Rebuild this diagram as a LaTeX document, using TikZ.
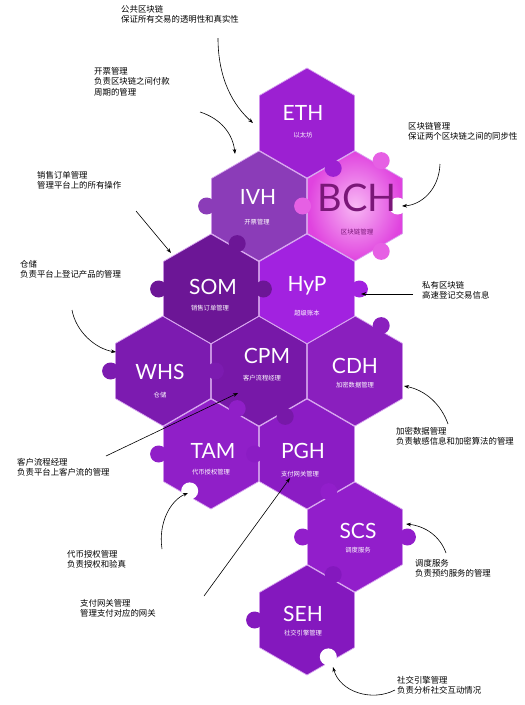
\documentclass[tikz,border=0pt]{standalone}
\usepackage{fontspec}
\setmainfont{Noto Sans CJK SC}
\newfontfamily\labfont{Lato}
\usetikzlibrary{arrows.meta}
\definecolor{cETH}{HTML}{9C20D2}
\definecolor{cIVH}{HTML}{8B3CB8}
\definecolor{cBCHin}{HTML}{F8B8F4}
\definecolor{cBCH}{HTML}{E043DF}
\definecolor{cBCHtab}{HTML}{E660E4}
\definecolor{cBCHtxt}{HTML}{7A1778}
\definecolor{cSOM}{HTML}{6C1696}
\definecolor{cHyP}{HTML}{A222E0}
\definecolor{cWHS}{HTML}{7C1BB0}
\definecolor{cCPM}{HTML}{7718A8}
\definecolor{cCDH}{HTML}{8A1FBE}
\definecolor{cTAM}{HTML}{901FC8}
\definecolor{cPGH}{HTML}{8B1CC4}
\definecolor{cSCS}{HTML}{921ECB}
\definecolor{cSEH}{HTML}{8418BE}
\definecolor{seamc}{HTML}{D8A6F0}
\newcommand\hexshape[2]{(#1,#2) ++(0,-55) -- ++(47.63,27.5) -- ++(0,55) -- ++(-47.63,27.5) -- ++(-47.63,-27.5) -- ++(0,-55) -- cycle}
\newcommand\hexfill[3]{\fill[#3] \hexshape{#1}{#2};}
\newcommand\hexseam[2]{\draw[seam] \hexshape{#1}{#2};}
\newcommand\ptab[4]{\fill[#4] (#1,#2) ++(#3:52.4) circle[radius=8.5];}
\newcommand\pnotch[3]{\fill[white] (#1,#2) ++(#3:42.6) circle[radius=8.5];}
\begin{document}
\begin{tikzpicture}[x=1pt,y=-1pt,
  seam/.style={draw=seamc,line width=0.7pt},
  note/.style={align=left,anchor=north west,inner sep=0pt,font=\fontsize{8.4}{10.5}\selectfont},
  big/.style={text=white,inner sep=0pt,font=\labfont\fontsize{21}{21}\selectfont},
  sub/.style={text=white,inner sep=0pt,font=\fontsize{6.3}{7}\selectfont},
  arr/.style={-{Stealth[length=5pt,width=3.6pt]},line width=0.6pt}]
\useasboundingbox (0,0) rectangle (525,705);
% pieces
\hexfill{307}{123}{cETH}
\hexfill{259}{206}{cIVH}
\shade[inner color=cBCHin,outer color=cBCH] \hexshape{355}{206};
\hexfill{211}{289}{cSOM}
\hexfill{307}{289}{cHyP}
\hexfill{163}{371}{cWHS}
\hexfill{259}{371}{cCPM}
\hexfill{355}{371}{cCDH}
\hexfill{211}{454}{cTAM}
\hexfill{307}{454}{cPGH}
\hexfill{355}{537}{cSCS}
\hexfill{307}{620}{cSEH}
% seams
\hexseam{307}{123}\hexseam{259}{206}\hexseam{355}{206}\hexseam{211}{289}
\hexseam{307}{289}\hexseam{163}{371}\hexseam{259}{371}\hexseam{355}{371}
\hexseam{211}{454}\hexseam{307}{454}\hexseam{355}{537}\hexseam{307}{620}
% tabs and notches
\ptab{307}{123}{60}{cETH}
\ptab{259}{206}{180}{cIVH}
\ptab{355}{206}{180}{cBCHtab}
\ptab{355}{206}{300}{cBCHtab}
\ptab{355}{206}{60}{cBCHtab}
\pnotch{355}{206}{0}
\ptab{211}{289}{300}{cSOM}
\ptab{211}{289}{0}{cSOM}
\ptab{211}{289}{180}{cSOM}
\ptab{307}{289}{0}{cHyP}
\ptab{163}{371}{180}{cWHS}
\ptab{163}{371}{0}{cWHS}
\ptab{259}{371}{60}{cCPM}
\ptab{355}{371}{300}{cCDH}
\ptab{211}{454}{180}{cTAM}
\ptab{211}{454}{300}{cTAM}
\pnotch{211}{454}{120}
\ptab{307}{454}{180}{cPGH}
\ptab{355}{537}{240}{cSCS}
\ptab{355}{537}{0}{cSCS}
\ptab{355}{537}{180}{cSCS}
\ptab{307}{620}{180}{cSEH}
\ptab{307}{620}{300}{cSEH}
\pnotch{307}{620}{60}
% labels
\node[big] (eth) at (303,113) {ETH};
\node[sub] (eths) at (303,135) {以太坊};
\node[big] (ivh) at (258,197) {IVH};
\node[sub] (ivhs) at (257,222) {开票管理};
\node[inner sep=0pt,text=cBCHtxt,font=\labfont\fontsize{38}{38}\selectfont] (bch) at (357,198) {BCH};
\node[inner sep=0pt,text=cBCHtxt,font=\fontsize{6.5}{7}\selectfont] (bchs) at (357,232) {区块链管理};
\node[big] (som) at (213,287) {SOM};
\node[sub] (soms) at (210,308) {销售订单管理};
\node[big] (hyp) at (307,286) {HyP};
\node[sub] (hyps) at (307,313) {超级账本};
\node[big] (whs) at (160,372) {WHS};
\node[sub] (whss) at (160,395) {仓储};
\node[big] (cpm) at (267,356) {CPM};
\node[sub] (cpms) at (262,378) {客户流程经理};
\node[big] (cdh) at (355,366) {CDH};
\node[sub] (cdhs) at (355,385) {加密数据管理};
\node[big] (tam) at (213,451) {TAM};
\node[sub] (tams) at (211,472) {代币授权管理};
\node[big] (pgh) at (303,451) {PGH};
\node[sub] (pghs) at (300,474) {支付网关管理};
\node[big] (scs) at (358,531) {SCS};
\node[sub] (scss) at (358,550) {调度服务};
\node[big] (seh) at (303,614) {SEH};
\node[sub] (sehs) at (303,633) {社交引擎管理};
% notes
\node[note] (n1) at (121,5) {公共区块链\\保证所有交易的透明性和真实性};
\node[note] (n2) at (94,67) {开票管理\\负责区块链之间付款\\周期的管理};
\node[note] (n3) at (408,122) {区块链管理\\保证两个区块链之间的同步性};
\node[note] (n4) at (37,171) {销售订单管理\\管理平台上的所有操作};
\node[note] (n5) at (20,260) {仓储\\负责平台上登记产品的管理};
\node[note] (n6) at (422,281) {私有区块链\\高速登记交易信息};
\node[note] (n7) at (396,427) {加密数据管理\\负责敏感信息和加密算法的管理};
\node[note] (n8) at (17,458) {客户流程经理\\负责平台上客户流的管理};
\node[note] (n9) at (67,550) {代币授权管理\\负责授权和验真};
\node[note] (n10) at (80,599) {支付网关管理\\管理支付对应的网关};
\node[note] (n11) at (415,559) {调度服务\\负责预约服务的管理};
\node[note] (n12) at (397,676) {社交引擎管理\\负责分析社交互动情况};
% arrow ends
\coordinate (a1s) at (218,38);  \coordinate (a1e) at (253,123);
\coordinate (a2s) at (200,112); \coordinate (a2e) at (235,154);
\coordinate (a3s) at (136,211); \coordinate (a3e) at (171,253);
\coordinate (a4s) at (72,310);  \coordinate (a4e) at (116,352);
\coordinate (a5s) at (440,164); \coordinate (a5e) at (402,206);
\coordinate (a6s) at (413,294); \coordinate (a6e) at (361,294);
\coordinate (a7s) at (448,424); \coordinate (a7e) at (404,386);
\coordinate (a8s) at (106,456); \coordinate (a8e) at (238,393);
\coordinate (a9s) at (162,549); \coordinate (a9e) at (188,493);
\coordinate (a10s) at (204,596);\coordinate (a10e) at (290,478);
\coordinate (a11s) at (446,553);\coordinate (a11e) at (406,524);
\coordinate (a12s) at (395,690);\coordinate (a12e) at (333,667);
\draw[arr] (a1s) .. controls (218,80) and (234,106) .. (a1e);
\draw[arr] (a2s) .. controls (222,119) and (233,135) .. (a2e);
\draw[arr] (a3s) -- (a3e);
\draw[arr] (a4s) .. controls (76,332) and (96,349) .. (a4e);
\draw[arr] (a5s) .. controls (439,190) and (421,205) .. (a5e);
\draw[arr] (a6s) -- (a6e);
\draw[arr] (a7s) .. controls (441,404) and (425,390) .. (a7e);
\draw[arr] (a8s) -- (a8e);
\draw[arr] (a9s) .. controls (158,522) and (171,500) .. (a9e);
\draw[arr] (a10s) -- (a10e);
\draw[arr] (a11s) .. controls (440,536) and (425,526) .. (a11e);
\draw[arr] (a12s) .. controls (372,702) and (340,692) .. (a12e);
\end{tikzpicture}
\end{document}
